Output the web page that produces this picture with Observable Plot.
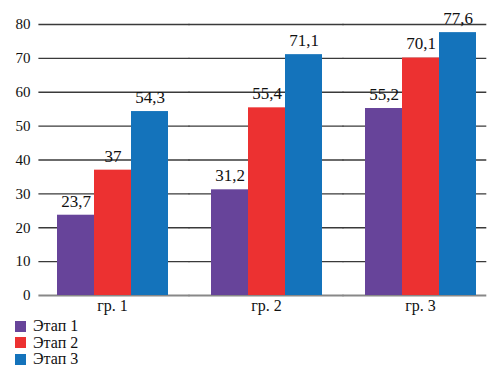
<!DOCTYPE html>
<html><head><meta charset="utf-8">
<style>
body{margin:0;background:#fff;font-family:'Liberation Serif';}
#preload{position:absolute;left:0;top:0;font-family:'Liberation Serif';font-size:16px;color:#fff;opacity:0.01;pointer-events:none;}
#legend{margin:3px 0 0 15px;font-size:16px;line-height:16.5px;color:#111;}
#legend div{display:flex;align-items:center;}
#legend span.sw{display:inline-block;width:11px;height:11px;margin-right:7px;}
</style>
<script src="https://cdn.jsdelivr.net/npm/d3@7"></script>
<script src="https://cdn.jsdelivr.net/npm/@observablehq/plot@0.6"></script>
</head><body>
<div id="preload" aria-hidden="true">Этап гр. 0123456789,</div>
<div id="chart"></div>
<div id="legend"></div>
<script>
const groups = ["гр. 1", "гр. 2", "гр. 3"];
const stages = ["Этап 1", "Этап 2", "Этап 3"];
const stage1 = [23.7, 31.2, 55.2];
const stage2 = [37, 55.4, 70.1];
const stage3 = [54.3, 71.1, 77.6];
const colors = ["#67449a", "#ec3131", "#1473bb"];
const yTicks = [0, 10, 20, 30, 40, 50, 60, 70, 80];

const series = [stage1, stage2, stage3];
const data = [];
groups.forEach((g, gi) => stages.forEach((s, si) => data.push({group: g, stage: s, value: series[si][gi]})));
const fmt = v => String(v).replace(".", ",");

// gridlines drawn in every facet, stretched over the gaps between facets
const gridInsets = [[-17.6, -21.5], [-21.5, -21.5], [-21.5, -10.3]];
const gridMarks = groups.flatMap((g, i) => [
  Plot.ruleY(yTicks.filter(d => d > 0), {y: d => d, fx: () => g, stroke: "#3a3a3a", strokeWidth: 1.3, insetLeft: gridInsets[i][0], insetRight: gridInsets[i][1]}),
  Plot.ruleY([0], {y: d => d, fx: () => g, stroke: "#888", strokeWidth: 2.2, insetLeft: gridInsets[i][0], insetRight: gridInsets[i][1]})
]);

const plot = Plot.plot({
  width: 501, height: 315,
  marginLeft: 37, marginRight: 13, marginTop: 24, marginBottom: 20,
  style: {fontFamily: "Liberation Serif", fontSize: "15px", color: "#111", background: "#fff", overflow: "visible"},
  fx: {domain: groups, paddingInner: 0.27, paddingOuter: 0.09, align: 0.63, label: null, axis: "bottom", tickSize: 0, tickPadding: 4},
  x: {domain: stages, axis: null, padding: 0},
  y: {domain: [0, 80], ticks: yTicks, label: null, tickSize: 0, tickPadding: 26},
  color: {domain: stages, range: colors},
  marks: [
    ...gridMarks,
    Plot.barY(data, {fx: "group", x: "stage", y: "value", fill: "stage"}),
    Plot.text(data, {fx: "group", x: "stage", y: "value", text: d => fmt(d.value), dy: -14, fontSize: 17, fill: "#111"})
  ]
});
document.getElementById("chart").appendChild(plot);
plot.style.setProperty("font-family", "'Liberation Serif'", "important");
plot.querySelectorAll("text").forEach(e => e.style.setProperty("font-family", "'Liberation Serif'", "important"));
plot.querySelectorAll("[aria-label='fx-axis tick label']").forEach(e => e.setAttribute("font-size", "16"));

const leg = document.getElementById("legend");
leg.style.setProperty("font-family", "'Liberation Serif'", "important");
stages.forEach((s, i) => {
  const row = document.createElement("div");
  row.innerHTML = `<span class="sw" style="background:${colors[i]}"></span>${s}`;
  leg.appendChild(row);
});
</script>
</body></html>
